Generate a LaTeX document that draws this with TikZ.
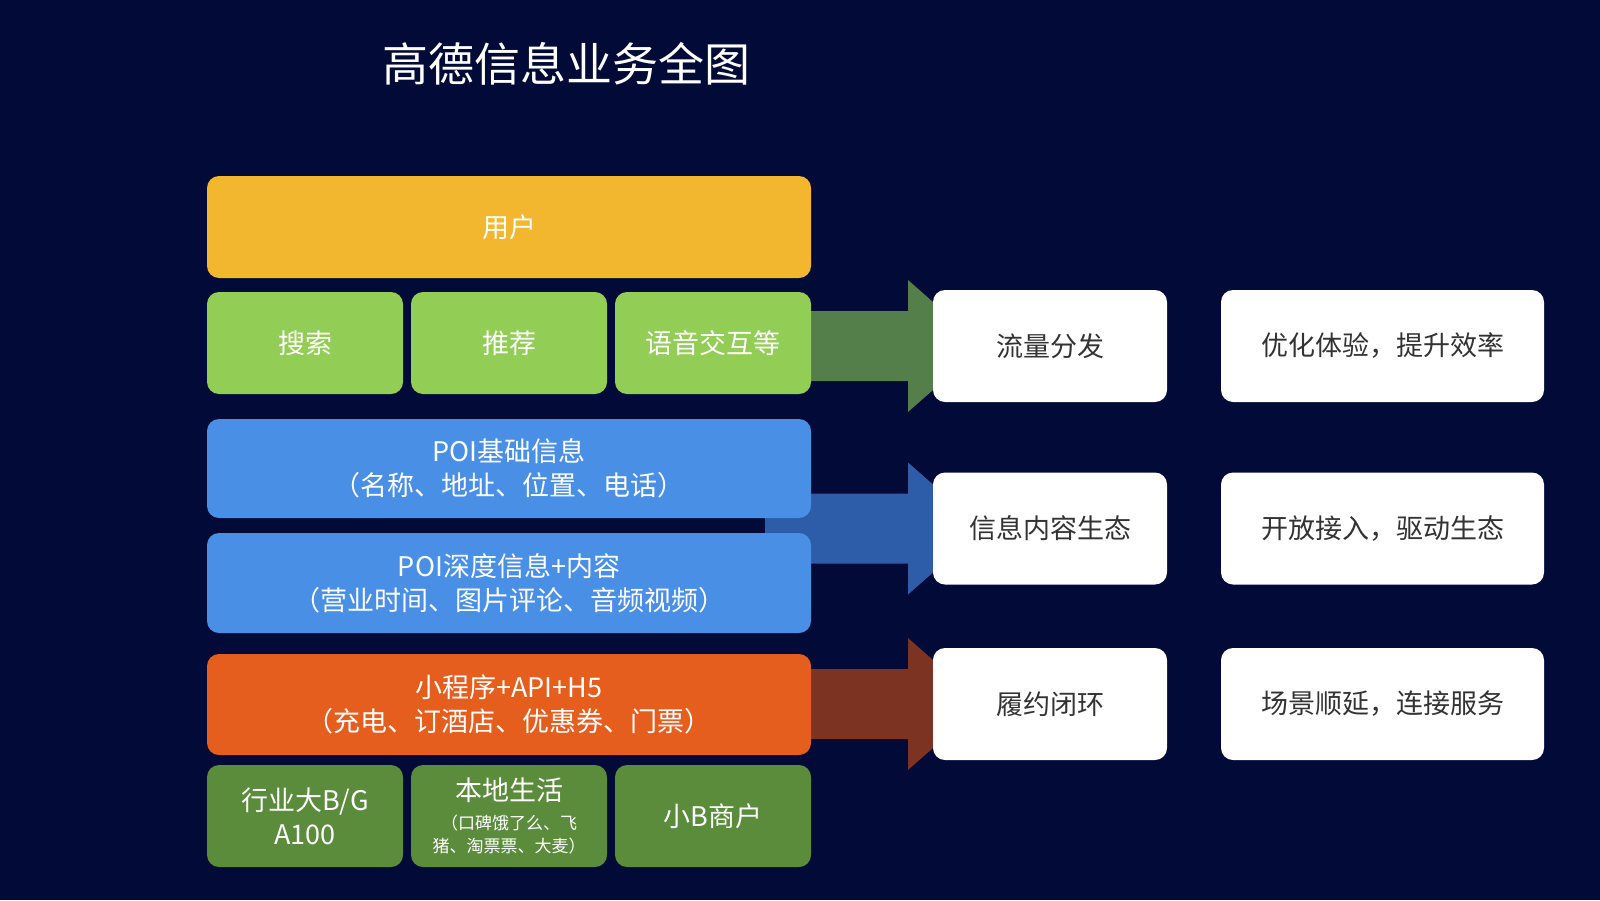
\documentclass[tikz,border=0pt]{standalone}
\usepackage{fontspec}
\setmainfont{Noto Sans CJK SC}
\usetikzlibrary{positioning}
\definecolor{navy}{HTML}{020A38}
\definecolor{userc}{HTML}{F2B72E}
\definecolor{lgreen}{HTML}{92CD55}
\definecolor{poic}{HTML}{4A8FE6}
\definecolor{appc}{HTML}{E65E1E}
\definecolor{dgreen}{HTML}{5A8C3C}
\definecolor{garr}{HTML}{557F4A}
\definecolor{barr}{HTML}{2D5DA8}
\definecolor{oarr}{HTML}{7C3321}
\definecolor{greytext}{HTML}{333333}
\pgfdeclarelayer{bg}
\pgfdeclarelayer{arr}
\pgfsetlayers{bg,arr,main}

\newcommand{\bigarrow}[3]{%
  \begin{pgfonlayer}{arr}
    \fill[#1] (#2.east |- #3.west) ++(-46,-35) -- ++(143,0) -- ++(0,-31) -- ++(75,66) -- ++(-75,66) -- ++(0,-31) -- ++(-143,0) -- cycle;
  \end{pgfonlayer}}
\newcommand{\smalltext}[1]{{\fontsize{17}{22}\selectfont #1}}

\begin{document}
\begin{tikzpicture}[x=1pt, y=-1pt,
    box/.style={rectangle, rounded corners=12pt, inner sep=0pt, outer sep=0pt, text=white, align=center, font=\fontsize{27}{34}\selectfont},
    wide/.style={box, minimum width=604pt, minimum height=100pt},
    cell/.style={box, minimum width=196pt, minimum height=102pt, text width=196pt},
    res/.style={box, fill=white, text=greytext, minimum height=112pt}]
    \useasboundingbox (0,0) rectangle (1600,900);
    \begin{pgfonlayer}{bg}
        \fill[navy] (0,0) rectangle (1600,900);
    \end{pgfonlayer}

    \node[text=white, font=\fontsize{46}{50}\selectfont] (title) at (566,64) {高德信息业务全图};

    \node[wide, fill=userc, minimum height=102pt] (user) at (509,227) {用户};
    \node[cell, fill=lgreen] (search) at (305,343) {搜索};
    \node[cell, fill=lgreen, right=8pt of search] (recommend) {推荐};
    \node[cell, fill=lgreen, right=8pt of recommend] (voice) {语音交互等};

    \node[wide, fill=poic, minimum height=99pt] (poibase) at (509,468.5)
        {POI基础信息\\（名称、地址、位置、电话）};
    \node[wide, fill=poic, below=15pt of poibase] (poideep)
        {POI深度信息+内容\\（营业时间、图片评论、音频视频）};
    \node[wide, fill=appc, below=21pt of poideep, minimum height=101pt] (service)
        {小程序+API+H5\\（充电、订酒店、优惠券、门票）};

    \node[cell, fill=dgreen] (industry) at (305,816) {行业大B/G\\A100};
    \node[cell, fill=dgreen, right=8pt of industry] (local)
        {本地生活\\[-5pt]\smalltext{（口碑饿了么、飞}\\[-11pt]\smalltext{猪、淘票票、大麦）}};
    \node[cell, fill=dgreen, right=8pt of local] (merchant) {小B商户};

    \node[res, minimum width=234pt] (flow) at (1050,346) {流量分发};
    \node[res, minimum width=234pt] (content) at (1050,528.5) {信息内容生态};
    \node[res, minimum width=234pt] (fulfil) at (1050,704) {履约闭环};
    \node[res, minimum width=323pt, right=54pt of flow] (experience) {优化体验，提升效率};
    \node[res, minimum width=323pt, right=54pt of content] (openup) {开放接入，驱动生态};
    \node[res, minimum width=323pt, right=54pt of fulfil] (connect) {场景顺延，连接服务};

    \bigarrow{garr}{voice}{flow}
    \bigarrow{barr}{poideep}{content}
    \bigarrow{oarr}{service}{fulfil}
\end{tikzpicture}
\end{document}
